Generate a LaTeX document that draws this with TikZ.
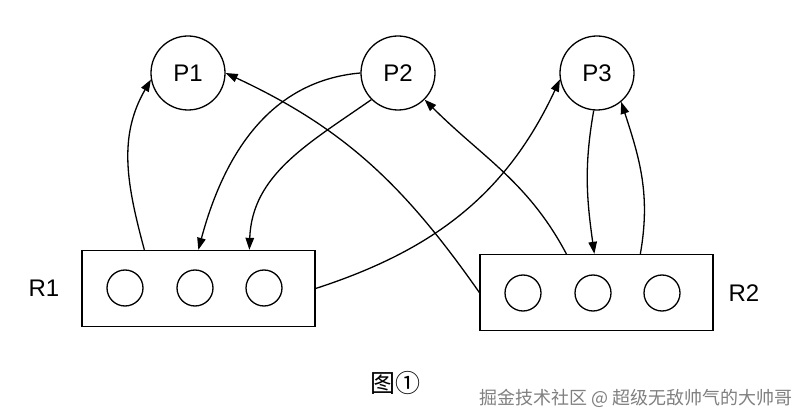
\documentclass[tikz,border=0pt]{standalone}
\usepackage{fontspec}
\setmainfont{Liberation Sans}
\newfontfamily\cjk{Noto Sans CJK SC}
\usetikzlibrary{arrows.meta}
\begin{document}
\begin{tikzpicture}[x=1pt,y=-1pt,
  proc/.style={draw,circle,line width=1.3pt,minimum size=74pt,inner sep=0pt,font=\fontsize{24}{26}\selectfont},
  res/.style={draw,rectangle,line width=1.3pt,minimum width=233pt,minimum height=76pt,inner sep=0pt},
  slot/.style={draw,circle,line width=1.3pt,minimum size=36pt,inner sep=0pt},
  lab/.style={font=\fontsize{24}{26}\selectfont},
  conn/.style={line width=1.3pt,-{Triangle[length=12pt,width=8.5pt]}}]
\useasboundingbox (0,0) rectangle (806,414);
\fill[white] (0,0) rectangle (806,414);
% processes
\node[proc] (P1) at (188,73) {P1};
\node[proc] (P2) at (398,73) {P2};
\node[proc] (P3) at (597,73) {P3};
% resources
\node[res] (R1) at (198.5,288.5) {};
\node[res] (R2) at (596.5,292.5) {};
\node[slot] (a1) at (125,288) {};
\node[slot] (a2) at (195,288) {};
\node[slot] (a3) at (264,288) {};
\node[slot] (b1) at (523,293) {};
\node[slot] (b2) at (593,293) {};
\node[slot] (b3) at (662,293) {};
\node[lab] (L1) at (44,288) {R1};
\node[lab] (L2) at (744,293) {R2};
% edges
\draw[conn] ([xshift=63pt]R1.north west) to[out=105,in=240] (P1.190);
\draw[conn] (P2.180) to[out=185,in=75] ([xshift=117pt]R1.north west);
\draw[conn] (P2.225) to[out=215,in=88] ([xshift=168pt]R1.north west);
\draw[conn] (R2.west) to[out=125,in=-25] (P1.0);
\draw[conn] (R1.east) to[out=18,in=245] (P3.190);
\draw[conn] ([xshift=87pt]R2.north west) to[out=118,in=-45] (P2.-45);
\draw[conn] (P3.265) to[out=260,in=98] ([xshift=115pt]R2.north west);
\draw[conn] ([xshift=161pt]R2.north west) to[out=80,in=-72] (P3.-50);
% caption
\node[font=\cjk\fontsize{25}{27}\selectfont] (cap) at (395,383) {图①};
\node[font=\cjk\fontsize{18}{20}\selectfont,text=black!50] (wm) at (636,398) {掘金技术社区 @ 超级无敌帅气的大帅哥};
\end{tikzpicture}
\end{document}
